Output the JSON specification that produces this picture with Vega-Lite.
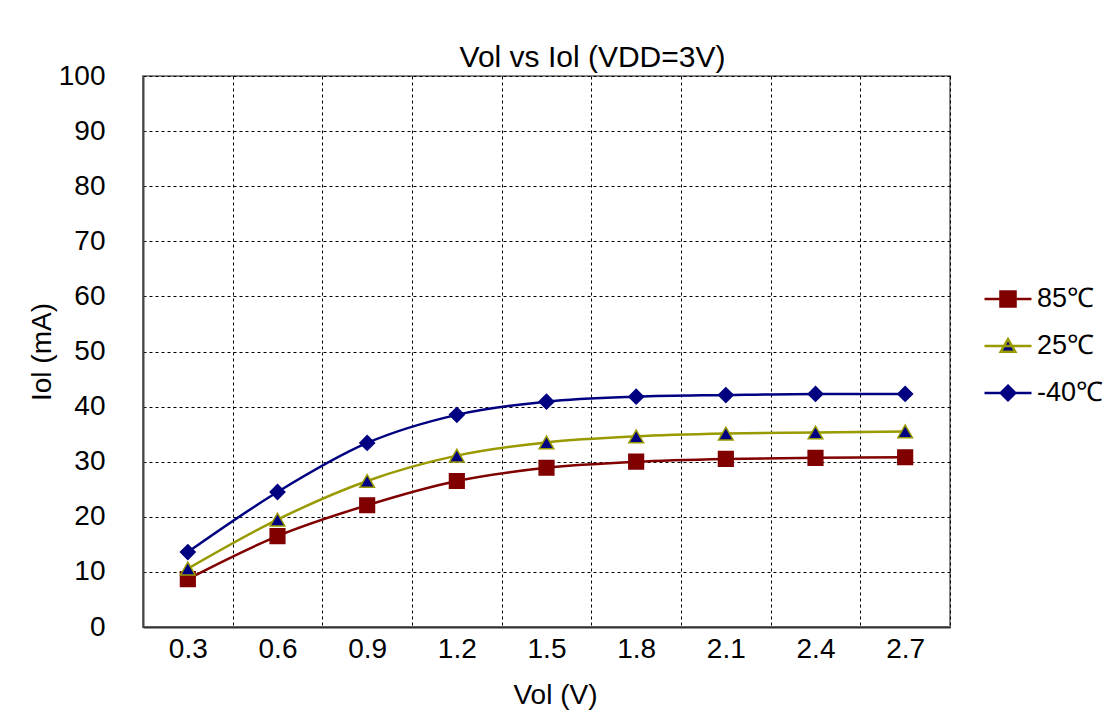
{
  "$schema": "https://vega.github.io/schema/vega-lite/v6.json",
  "width": 807,
  "height": 551,
  "autosize": "none",
  "padding": {"left": 143, "top": 76, "right": 160, "bottom": 93},
  "background": "white",
  "title": {"text": "Vol vs Iol (VDD=3V)", "fontSize": 30, "font": "Liberation Sans", "fontWeight": "normal", "color": "black", "anchor": "middle", "dx": 46, "offset": -11},
  "config": {"view": {"stroke": "#888888", "strokeWidth": 2}, "font": "Liberation Sans"},
  "data": {"values": [
    {"v": "0.3", "t": "85℃", "i": 8.7}, {"v": "0.6", "t": "85℃", "i": 16.5}, {"v": "0.9", "t": "85℃", "i": 22.1},
    {"v": "1.2", "t": "85℃", "i": 26.5}, {"v": "1.5", "t": "85℃", "i": 28.9}, {"v": "1.8", "t": "85℃", "i": 30.0},
    {"v": "2.1", "t": "85℃", "i": 30.5}, {"v": "2.4", "t": "85℃", "i": 30.7}, {"v": "2.7", "t": "85℃", "i": 30.8},
    {"v": "0.3", "t": "25℃", "i": 10.6}, {"v": "0.6", "t": "25℃", "i": 19.5}, {"v": "0.9", "t": "25℃", "i": 26.5},
    {"v": "1.2", "t": "25℃", "i": 31.1}, {"v": "1.5", "t": "25℃", "i": 33.5}, {"v": "1.8", "t": "25℃", "i": 34.6},
    {"v": "2.1", "t": "25℃", "i": 35.1}, {"v": "2.4", "t": "25℃", "i": 35.3}, {"v": "2.7", "t": "25℃", "i": 35.5},
    {"v": "0.3", "t": "-40℃", "i": 13.6}, {"v": "0.6", "t": "-40℃", "i": 24.5}, {"v": "0.9", "t": "-40℃", "i": 33.4},
    {"v": "1.2", "t": "-40℃", "i": 38.5}, {"v": "1.5", "t": "-40℃", "i": 40.9}, {"v": "1.8", "t": "-40℃", "i": 41.8},
    {"v": "2.1", "t": "-40℃", "i": 42.1}, {"v": "2.4", "t": "-40℃", "i": 42.3}, {"v": "2.7", "t": "-40℃", "i": 42.3}
  ]},
  "encoding": {
    "x": {
      "field": "v", "type": "ordinal",
      "sort": ["0.3", "0.6", "0.9", "1.2", "1.5", "1.8", "2.1", "2.4", "2.7"],
      "scale": {"type": "band", "paddingInner": 0, "paddingOuter": 0},
      "axis": {
        "title": "Vol (V)", "titleFontSize": 28, "titleFontWeight": "normal", "titleColor": "black", "titlePadding": 18, "titleX": 412,
        "labelAngle": 0, "labelFontSize": 28, "labelColor": "black", "labelPadding": 8,
        "ticks": false, "tickBand": "extent",
        "domainColor": "#333333", "domainWidth": 2,
        "grid": true, "gridColor": "black", "gridDash": [3, 3], "gridWidth": 1, "gridOpacity": 1
      }
    },
    "y": {
      "field": "i", "type": "quantitative",
      "scale": {"domain": [0, 100], "nice": false},
      "axis": {
        "title": "Iol (mA)", "titleFontSize": 28, "titleFontWeight": "normal", "titleColor": "black", "titlePadding": 2,
        "values": [0, 10, 20, 30, 40, 50, 60, 70, 80, 90, 100],
        "labelFontSize": 28, "labelColor": "black", "labelPadding": 38,
        "ticks": false,
        "domainColor": "#444444", "domainWidth": 2,
        "grid": true, "gridColor": "black", "gridDash": [3, 3], "gridWidth": 1, "gridOpacity": 1
      }
    }
  },
  "layer": [
    {
      "mark": {"type": "line", "interpolate": "monotone", "strokeWidth": 2.5},
      "encoding": {
        "color": {
          "field": "t", "type": "nominal",
          "scale": {"domain": ["85℃", "25℃", "-40℃"], "range": ["#800000", "#999900", "#000080"]},
          "legend": {
            "orient": "none", "legendX": 840, "legendY": 198, "title": null, "padding": 0,
            "symbolSize": 2209, "symbolStrokeWidth": 2.5, "labelFontSize": 27, "labelColor": "black", "labelOffset": 4, "rowPadding": 9,
            "symbolType": "M-1,0H1",
            "encode": {"symbols": {"update": {
              "shape": {"signal": "datum.value === '85℃' ? 'M-1,0H1M-0.32,-0.32H0.32V0.32H-0.32Z' : datum.value === '25℃' ? 'M-1,0H1M0,-0.29L0.31,0.24H-0.31Z' : 'M-1,0H1M0,-0.31L0.31,0L0,0.31L-0.31,0Z'"},
              "fill": {"signal": "datum.value === '85℃' ? '#800000' : '#000080'"},
              "stroke": {"signal": "datum.value === '85℃' ? '#800000' : datum.value === '25℃' ? '#999900' : '#000080'"},
              "fillOpacity": {"value": 1},
              "strokeWidth": {"value": 2.5}
            }}}
          }
        }
      }
    },
    {
      "transform": [{"filter": "datum.t === '85℃'"}],
      "mark": {"type": "point", "shape": "square", "filled": true, "size": 215, "opacity": 1, "strokeWidth": 1.5, "fill": "#800000", "stroke": "#800000"}
    },
    {
      "transform": [{"filter": "datum.t === '25℃'"}],
      "mark": {"type": "point", "shape": "triangle-up", "filled": true, "size": 215, "opacity": 1, "strokeWidth": 1.5, "fill": "#000080", "stroke": "#999900"}
    },
    {
      "transform": [{"filter": "datum.t === '-40℃'"}],
      "mark": {"type": "point", "shape": "diamond", "filled": true, "size": 215, "opacity": 1, "strokeWidth": 1.5, "fill": "#000080", "stroke": "#000080"}
    }
  ]
}
